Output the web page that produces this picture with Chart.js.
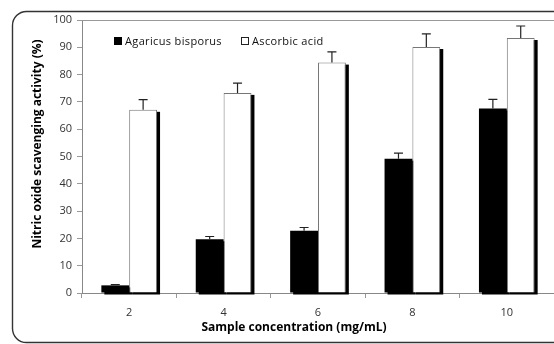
<!DOCTYPE html>
<html>
<head>
  <title>Nitric oxide scavenging activity</title>
  <script src="https://cdn.jsdelivr.net/npm/chart.js@4.4.1/dist/chart.umd.min.js"></script>
  <style>
    body { margin: 0; background: #fff; }
  </style>
</head>
<body>
  <canvas id="myChart" width="554" height="344"></canvas>

  <script>
    // data
    var concentrations = ['2', '4', '6', '8', '10'];
    var agaricus = [2.8, 19.7, 22.8, 49.2, 67.6];
    var agaricusErr = [0.3, 1.0, 1.2, 2.0, 3.3];
    var ascorbic = [67.1, 73.3, 84.4, 90.1, 93.4];
    var ascorbicErr = [3.7, 3.6, 3.9, 4.8, 4.4];
    var yTicks = [0, 10, 20, 30, 40, 50, 60, 70, 80, 90, 100];

    var errors = [agaricusErr, ascorbicErr];
    var fontName = '"Open Sans", Lato, sans-serif';

    // rounded frame, bar shadows, top line, error bars, legend, axis titles
    var decor = {
      id: 'decor',
      beforeDraw: function(chart) {
        var c = chart.ctx;
        c.save();
        c.strokeStyle = '#333';
        c.lineWidth = 1.4;
        c.beginPath();
        c.roundRect(12.5, 11.5, 570, 331, 14);
        c.stroke();
        c.restore();
      },
      beforeDatasetsDraw: function(chart) {
        var c = chart.ctx;
        var area = chart.chartArea;
        c.save();
        c.fillStyle = '#000';
        chart.data.datasets.forEach(function(ds, i) {
          chart.getDatasetMeta(i).data.forEach(function(bar) {
            c.fillRect(bar.x - bar.width / 2 + 3, bar.y + 2, bar.width, bar.base - bar.y);
          });
        });
        // top edge of the plot
        c.strokeStyle = '#999';
        c.lineWidth = 1;
        c.beginPath();
        c.moveTo(area.left, Math.round(area.top) + 0.5);
        c.lineTo(area.right, Math.round(area.top) + 0.5);
        c.stroke();
        c.restore();
      },
      afterDatasetsDraw: function(chart) {
        var c = chart.ctx;
        var yScale = chart.scales.y;
        c.save();
        c.strokeStyle = '#222';
        c.lineWidth = 1.2;
        chart.data.datasets.forEach(function(ds, i) {
          chart.getDatasetMeta(i).data.forEach(function(bar, j) {
            var top = yScale.getPixelForValue(ds.data[j] + errors[i][j]);
            c.beginPath();
            c.moveTo(bar.x, bar.y);
            c.lineTo(bar.x, top);
            c.moveTo(bar.x - 4.5, top);
            c.lineTo(bar.x + 4.5, top);
            c.stroke();
          });
        });

        // legend
        var ds = chart.data.datasets;
        c.font = '11px ' + fontName;
        c.textBaseline = 'middle';
        c.letterSpacing = '0.35px';
        c.fillStyle = '#000';
        c.fillRect(114, 37, 8, 8);
        c.fillStyle = '#111';
        c.fillText(ds[0].label, 125, 41.5);
        c.fillStyle = '#fff';
        c.fillRect(241.5, 37.5, 7, 7);
        c.strokeStyle = '#222';
        c.lineWidth = 1;
        c.strokeRect(241.5, 37.5, 7, 7);
        c.fillStyle = '#111';
        c.fillText(ds[1].label, 252, 41.5);

        // axis titles
        c.letterSpacing = '0px';
        c.font = 'bold 12px ' + fontName;
        c.fillStyle = '#000';
        c.textAlign = 'center';
        c.fillText('Sample concentration (mg/mL)', 294, 328);
        c.translate(38, 144);
        c.rotate(-Math.PI / 2);
        c.fillText('Nitric oxide scavenging activity (%)', 0, 0);
        c.restore();
      }
    };

    var ctx = document.getElementById('myChart').getContext('2d');
    var chart = new Chart(ctx, {
      type: 'bar',
      data: {
        labels: concentrations,
        datasets: [{
          label: 'Agaricus bisporus',
          data: agaricus,
          backgroundColor: '#000',
          borderWidth: 0
        }, {
          label: 'Ascorbic acid',
          data: ascorbic,
          backgroundColor: '#fff',
          borderColor: '#777',
          borderWidth: { top: 1, left: 1, right: 1, bottom: 0 }
        }]
      },
      options: {
        responsive: false,
        animation: false,
        categoryPercentage: 0.59,
        barPercentage: 1,
        layout: { padding: { top: 20, left: 0, right: 0, bottom: 0 } },
        plugins: {
          legend: { display: false },
          tooltip: { enabled: false }
        },
        scales: {
          x: {
            grid: { drawOnChartArea: false, tickLength: 5, color: '#999', offset: true },
            border: { color: '#888' },
            ticks: { padding: 8, color: '#333', font: { family: fontName, size: 11 } },
            afterFit: function(scale) { scale.height = 51; }
          },
          y: {
            min: 0,
            max: 100,
            afterBuildTicks: function(scale) {
              scale.ticks = yTicks.map(function(v) { return { value: v }; });
            },
            grid: { drawOnChartArea: false, tickLength: 5, color: '#999' },
            border: { color: '#888' },
            ticks: { padding: 5, color: '#333', font: { family: fontName, size: 11 } },
            afterFit: function(scale) { scale.width = 82; }
          }
        }
      },
      plugins: [decor]
    });
  </script>
</body>
</html>
